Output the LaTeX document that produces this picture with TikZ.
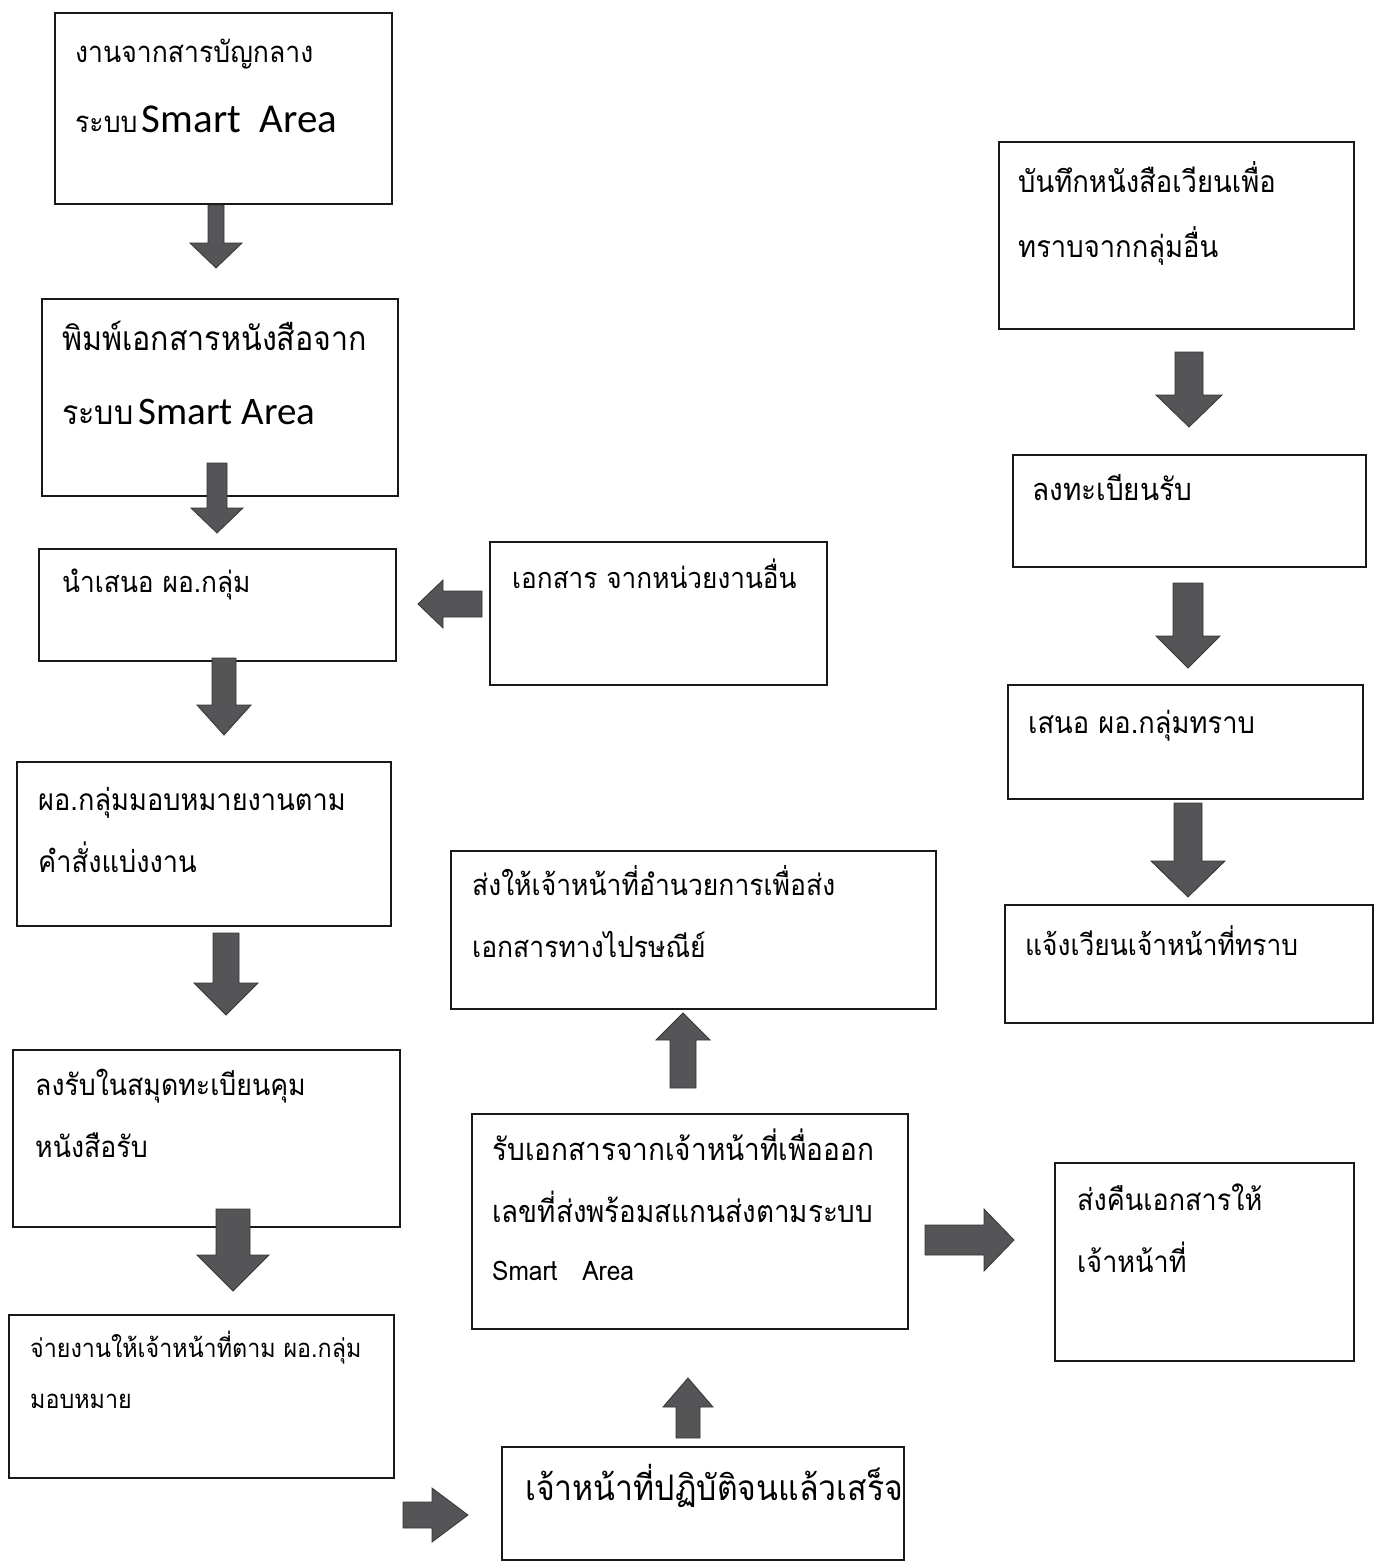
\documentclass[tikz,border=0pt]{standalone}
\usepackage{fontspec}
\usepackage{graphicx}
\setmainfont[Script=Thai]{Loma}
\newfontfamily\calfont{Carlito}
\usetikzlibrary{calc}
\definecolor{arrfill}{HTML}{555557}
\definecolor{arrline}{HTML}{353537}
\tikzset{
  box/.style={draw=black!90, line width=1.8pt, inner sep=0pt, anchor=north west},
  txt/.style={anchor=base west, inner sep=0pt},
  blockarr/.style={fill=arrfill, draw=arrline, line width=0.8pt, line join=miter},
}
\newcommand\fsz[1]{\fontsize{#1}{#1}\selectfont}
\newcommand\tall[1]{\scalebox{1}[1.1]{#1}}
\newcommand\barrow[5]{%
  \coordinate (hb) at ($(#2)!#5!(#1)$);
  \filldraw[blockarr] ($(#1)!#3!90:(#2)$) -- ($(hb)!#3!-90:(#1)$) -- ($(hb)!#4!-90:(#1)$) -- (#2)
    -- ($(hb)!#4!90:(#1)$) -- ($(hb)!#3!90:(#1)$) -- ($(#1)!#3!-90:(#2)$) -- cycle;}
\begin{document}
\begin{tikzpicture}[x=1pt,y=-1pt]
\useasboundingbox[fill=white] (0,0) rectangle (1378,1567);
% boxes
\node[box, minimum width=337pt, minimum height=191pt] (A) at (54,12) {};
\node[box, minimum width=356pt, minimum height=197pt] (B) at (41,298) {};
\node[box, minimum width=357pt, minimum height=112pt] (C) at (38,548) {};
\node[box, minimum width=337pt, minimum height=143pt] (D) at (489,541) {};
\node[box, minimum width=374pt, minimum height=164pt] (E) at (16,761) {};
\node[box, minimum width=387pt, minimum height=177pt] (F) at (12,1049) {};
\node[box, minimum width=385pt, minimum height=163pt] (G) at (8,1314) {};
\node[box, minimum width=402pt, minimum height=113pt] (H) at (501,1446) {};
\node[box, minimum width=436pt, minimum height=215pt] (I) at (471,1113) {};
\node[box, minimum width=485pt, minimum height=158pt] (J) at (450,850) {};
\node[box, minimum width=299pt, minimum height=198pt] (K) at (1054,1162) {};
\node[box, minimum width=355pt, minimum height=187pt] (L) at (998,141) {};
\node[box, minimum width=353pt, minimum height=112pt] (M) at (1012,454) {};
\node[box, minimum width=355pt, minimum height=114pt] (N) at (1007,684) {};
\node[box, minimum width=368pt, minimum height=118pt] (O) at (1004,904) {};
% texts
\node[txt, font=\fsz{26.6}] (A1) at (75,62) {\tall{งานจากสารบัญกลาง}};
\node[txt, font=\fsz{26.6}] (A2) at (75,132) {\tall{ระบบ}\,{\calfont\fsz{41}Smart\ \ Area}};
\node[txt, font=\fsz{30.4}] (B1) at (62,350) {\tall{พิมพ์เอกสารหนังสือจาก}};
\node[txt, font=\fsz{30.4}] (B2) at (62,424) {\tall{ระบบ}\,{\calfont\fsz{39}Smart Area}};
\node[txt, font=\fsz{26.3}] (C1) at (62,592) {\tall{นำเสนอ ผอ.กลุ่ม}};
\node[txt, font=\fsz{26.2}] (D1) at (512,588) {\tall{เอกสาร จากหน่วยงานอื่น}};
\node[txt, font=\fsz{27.2}] (E1) at (38,810) {\tall{ผอ.กลุ่มมอบหมายงานตาม}};
\node[txt, font=\fsz{27.2}] (E2) at (38,872) {\tall{คำสั่งแบ่งงาน}};
\node[txt, font=\fsz{26.7}] (F1) at (35,1095) {\tall{ลงรับในสมุดทะเบียนคุม}};
\node[txt, font=\fsz{26.7}] (F2) at (35,1157) {\tall{หนังสือรับ}};
\node[txt, font=\fsz{23.3}] (G1) at (30,1357) {\tall{จ่ายงานให้เจ้าหน้าที่ตาม ผอ.กลุ่ม}};
\node[txt, font=\fsz{23.3}] (G2) at (30,1408) {\tall{มอบหมาย}};
\node[txt, font=\fsz{32}] (H1) at (525,1500) {\tall{เจ้าหน้าที่ปฏิบัติจนแล้วเสร็จ}};
\node[txt, font=\fsz{28}] (I1) at (492,1160) {\tall{รับเอกสารจากเจ้าหน้าที่เพื่อออก}};
\node[txt, font=\fsz{27.8}] (I2) at (492,1222) {\tall{เลขที่ส่งพร้อมสแกนส่งตามระบบ}};
\node[txt, font=\fsz{24.5}] (I3) at (492,1280) {\tall{Smart\ \ \ Area}};
\node[txt, font=\fsz{26.5}] (J1) at (472,895) {\tall{ส่งให้เจ้าหน้าที่อำนวยการเพื่อส่ง}};
\node[txt, font=\fsz{26.5}] (J2) at (472,957) {\tall{เอกสารทางไปรษณีย์}};
\node[txt, font=\fsz{27}] (K1) at (1077,1210) {\tall{ส่งคืนเอกสารให้}};
\node[txt, font=\fsz{27}] (K2) at (1077,1272) {\tall{เจ้าหน้าที่}};
\node[txt, font=\fsz{27.4}] (L1) at (1018,192) {\tall{บันทึกหนังสือเวียนเพื่อ}};
\node[txt, font=\fsz{27.4}] (L2) at (1018,257) {\tall{ทราบจากกลุ่มอื่น}};
\node[txt, font=\fsz{28}] (M1) at (1032,500) {\tall{ลงทะเบียนรับ}};
\node[txt, font=\fsz{27.3}] (N1) at (1028,733) {\tall{เสนอ ผอ.กลุ่มทราบ}};
\node[txt, font=\fsz{26.4}] (O1) at (1025,955) {\tall{แจ้งเวียนเจ้าหน้าที่ทราบ}};
% arrow end points
\coordinate (a1s) at (216,205);  \coordinate (a1e) at (216,268);
\coordinate (a2s) at (217,463);  \coordinate (a2e) at (217,533);
\coordinate (a3s) at (224,658);  \coordinate (a3e) at (224,735);
\coordinate (a4s) at (226,933);  \coordinate (a4e) at (226,1015);
\coordinate (a5s) at (233,1209); \coordinate (a5e) at (233,1291);
\coordinate (a6s) at (403,1515); \coordinate (a6e) at (468,1515);
\coordinate (a7s) at (688,1438); \coordinate (a7e) at (688,1378);
\coordinate (a8s) at (683,1088); \coordinate (a8e) at (683,1013);
\coordinate (a9s) at (925,1240); \coordinate (a9e) at (1014,1240);
\coordinate (a10s) at (482,604); \coordinate (a10e) at (418,604);
\coordinate (a11s) at (1189,352); \coordinate (a11e) at (1189,427);
\coordinate (a12s) at (1188,583); \coordinate (a12e) at (1188,668);
\coordinate (a13s) at (1188,803); \coordinate (a13e) at (1188,897);
% arrows
\barrow{a1s}{a1e}{8pt}{26pt}{25pt}
\barrow{a2s}{a2e}{10pt}{26pt}{25pt}
\barrow{a3s}{a3e}{12pt}{27pt}{30pt}
\barrow{a4s}{a4e}{13pt}{32pt}{32pt}
\barrow{a5s}{a5e}{17pt}{36pt}{36pt}
\barrow{a6s}{a6e}{13pt}{27pt}{36pt}
\barrow{a7s}{a7e}{12pt}{25pt}{29pt}
\barrow{a8s}{a8e}{13pt}{27pt}{27pt}
\barrow{a9s}{a9e}{15pt}{31pt}{30pt}
\barrow{a10s}{a10e}{13pt}{24pt}{25pt}
\barrow{a11s}{a11e}{14pt}{33pt}{32pt}
\barrow{a12s}{a12e}{15pt}{32pt}{32pt}
\barrow{a13s}{a13e}{14pt}{37pt}{36pt}
\end{tikzpicture}
\end{document}
